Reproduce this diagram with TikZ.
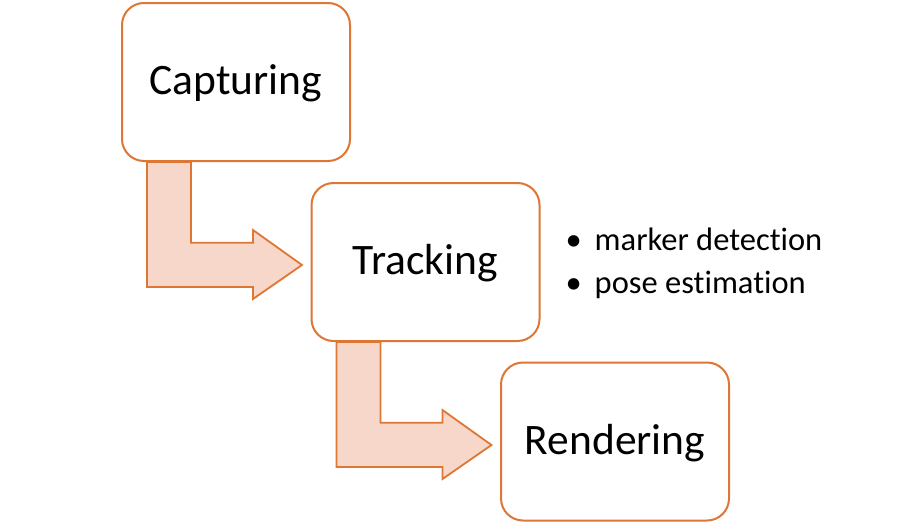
\documentclass[tikz,border=0pt]{standalone}
\usepackage{fontspec}
\setmainfont[Ligatures=NoCommon]{Carlito}
\usepackage{tikz}
\usetikzlibrary{positioning, calc}
\definecolor{stageline}{RGB}{222,118,52}
\definecolor{arrowfill}{RGB}{248,215,203}
\tikzset{
  stage/.style={draw=stageline, line width=2pt, fill=white, rounded corners=22pt,
    minimum width=228pt, minimum height=158pt, text height=29pt, text depth=4pt,
    font=\fontsize{43.5}{50}\selectfont},
  flowarrow/.style={draw=stageline, line width=1.8pt, fill=arrowfill, line join=miter}
}
\newcommand{\bentarrow}[1]{%
  \begin{scope}[shift={(#1.south west)}]
    \draw[flowarrow] (26,0) -- (26,125) -- (132,125) -- (132,137) -- (181,103)
      -- (132,68) -- (132,80.7) -- (70,80.7) -- (70,0) -- cycle;
  \end{scope}}

\begin{document}
\begin{tikzpicture}[x=1pt, y=-1pt]
  \useasboundingbox (0,0) rectangle (899,525);
  \node[stage] (cap) at (236,82) {Capturing};
  \node[stage] (trk) at (425.5,262) {Tracking};
  \node[stage] (ren) at (615,441.5) {Rendering};
  % bent arrows between the stages
  \bentarrow{cap}
  \bentarrow{trk}
  \node[anchor=west, align=left, font=\fontsize{32.5}{43}\selectfont] (steps) at (562,263.5)
    {\textbullet\hspace{13pt}marker detection\\ \textbullet\hspace{13pt}pose estimation};
\end{tikzpicture}
\end{document}
